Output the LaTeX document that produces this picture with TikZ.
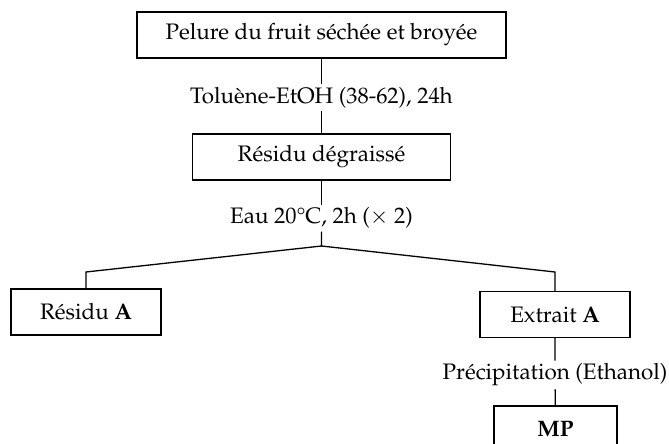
\documentclass[tikz,border=0pt]{standalone}
\usepackage[T1]{fontenc}
\usepackage{mathpazo}
\begin{document}
\begin{tikzpicture}[x=0.5pt, y=-0.5pt,
    box/.style={draw, line width=0.65pt, minimum height=23pt, inner sep=0pt, font=\fontsize{11.2}{13}\selectfont},
    lbl/.style={inner sep=1.2pt, font=\fontsize{11.2}{13}\selectfont},
    line width=0.65pt]
    \useasboundingbox (0,0) rectangle (669,444);

    % Extraction steps
    \node[box, minimum width=184.5pt] (pelure) at (321.5,35) {Pelure du fruit séchée et broyée};
    \node[lbl] (toluene) at (321.5,98) {Toluène-EtOH (38-62), 24h};
    \node[box, minimum width=129pt] (degras) at (321.5,157) {Résidu dégraissé};
    \node[lbl] (eau) at (321.5,218) {Eau 20\textdegree C, 2h ($\times$ 2)};
    \draw (pelure) -- (toluene) -- (degras) -- (eau);

    % Split into residue and extract
    \coordinate (apex) at (321.5,246);
    \coordinate (split) at (321.5,272);
    \node[box, minimum width=75pt] (residuA) at (86,312) {Résidu \textbf{A}};
    \node[box, minimum width=75pt] (extraitA) at (555,314.5) {Extrait \textbf{A}};
    \draw (eau) -- (apex) -- (residuA.north |- split) -- (residuA.north);
    \draw (apex) -- (extraitA.north |- split) -- (extraitA.north);

    % Precipitation
    \node[lbl] (precip) at (555,375) {Précipitation (Ethanol)};
    \node[box, minimum width=61.5pt] (mp) at (555.5,429) {\textbf{MP}};
    \draw (extraitA) -- (precip) -- (mp);

\end{tikzpicture}
\end{document}
